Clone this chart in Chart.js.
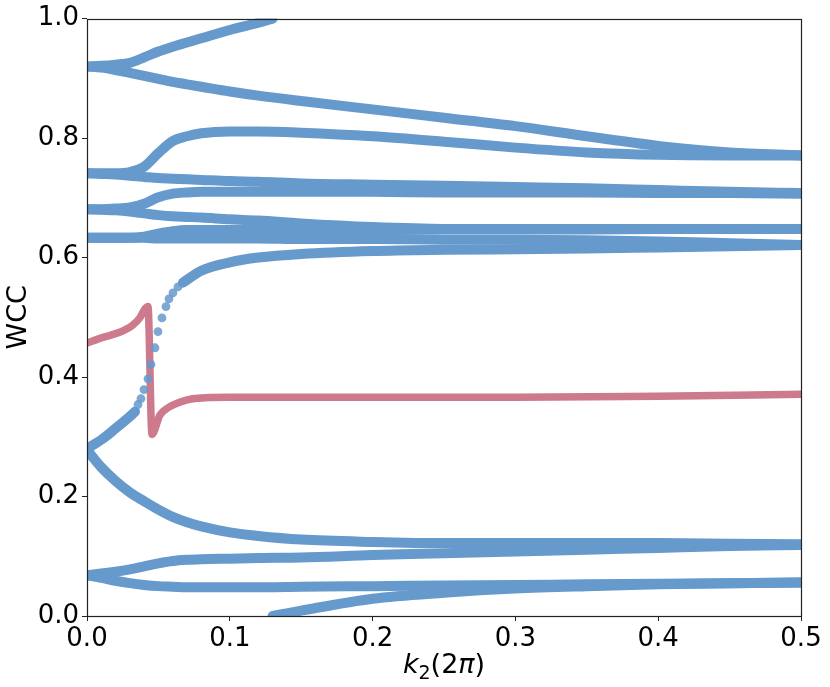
<!DOCTYPE html>
<html>
<head>
<meta charset="utf-8">
<script src="https://cdn.jsdelivr.net/npm/chart.js@4.4.1/dist/chart.umd.min.js"></script>
<style>
html, body { margin: 0; padding: 0; background: #fff; }
canvas { display: block; }
</style>
</head>
<body>
<canvas id="wcc" width="830" height="687"></canvas>
<script>
// k2 sample positions shared by most bands
const kGrid = [0, 0.01, 0.02, 0.03, 0.04, 0.05, 0.06, 0.07, 0.08, 0.1, 0.12, 0.15, 0.2, 0.25, 0.3, 0.35, 0.4, 0.45, 0.5];

// blue WCC bands
const bandB = [0.920, 0.918, 0.914, 0.909, 0.904, 0.899, 0.894, 0.890, 0.886, 0.878, 0.871, 0.862, 0.848, 0.834, 0.820, 0.803, 0.787, 0.776, 0.771];
const bandC = [0.741, 0.741, 0.741, 0.743, 0.752, 0.775, 0.795, 0.803, 0.808, 0.811, 0.811, 0.809, 0.803, 0.794, 0.784, 0.776, 0.772, 0.771, 0.771];
const bandD = [0.741, 0.740, 0.739, 0.737, 0.735, 0.733, 0.732, 0.731, 0.730, 0.728, 0.727, 0.724, 0.722, 0.720, 0.718, 0.716, 0.713, 0.710, 0.708];
const bandE = [0.681, 0.681, 0.682, 0.684, 0.690, 0.701, 0.707, 0.709, 0.710, 0.710, 0.710, 0.710, 0.710, 0.709, 0.709, 0.709, 0.708, 0.708, 0.707];
const bandF = [0.681, 0.680, 0.679, 0.677, 0.674, 0.671, 0.669, 0.668, 0.667, 0.664, 0.662, 0.657, 0.651, 0.648, 0.648, 0.648, 0.648, 0.648, 0.648];
const bandG1 = [0.633, 0.633, 0.633, 0.633, 0.635, 0.640, 0.644, 0.646, 0.646, 0.646, 0.646, 0.646, 0.646, 0.647, 0.647, 0.647, 0.648, 0.648, 0.648];
const bandG2 = [0.633, 0.633, 0.633, 0.633, 0.633, 0.632, 0.632, 0.632, 0.632, 0.632, 0.632, 0.631, 0.631, 0.630, 0.630, 0.629, 0.627, 0.624, 0.621];
const bandJ = [0.278, 0.249, 0.226, 0.207, 0.192, 0.178, 0.166, 0.157, 0.150, 0.140, 0.134, 0.128, 0.124, 0.122, 0.122, 0.122, 0.122, 0.121, 0.120];
const bandK = [0.068, 0.071, 0.074, 0.078, 0.083, 0.088, 0.092, 0.094, 0.095, 0.096, 0.097, 0.098, 0.102, 0.105, 0.108, 0.111, 0.114, 0.117, 0.119];
const bandL = [0.068, 0.064, 0.059, 0.055, 0.052, 0.050, 0.049, 0.048, 0.048, 0.048, 0.048, 0.049, 0.050, 0.051, 0.052, 0.053, 0.054, 0.055, 0.056];

// top band that runs out at 1.0 and comes back in at 0.0
const aK = [0, 0.01, 0.02, 0.03, 0.04, 0.05, 0.06, 0.07, 0.08, 0.1, 0.12, 0.13];
const aW = [0.920, 0.921, 0.923, 0.926, 0.935, 0.945, 0.953, 0.960, 0.967, 0.981, 0.993, 1.000];
const mK = [0.13, 0.15, 0.2, 0.25, 0.3, 0.35, 0.4, 0.45, 0.5];
const mW = [0.000, 0.009, 0.029, 0.039, 0.046, 0.050, 0.053, 0.055, 0.056];

// the band that climbs from 0.28 to 0.62: dense parts and the separated dots
const hLowK = [0, 0.01, 0.02, 0.03, 0.0336];
const hLowW = [0.280, 0.295, 0.314, 0.334, 0.342];
const hDotK = [0.0336, 0.0357, 0.0378, 0.0399, 0.0427, 0.0448, 0.0476, 0.0497, 0.0525, 0.0553, 0.0574, 0.0602, 0.0637, 0.0672];
const hDotW = [0.342, 0.354, 0.364, 0.379, 0.397, 0.421, 0.449, 0.476, 0.499, 0.518, 0.531, 0.541, 0.551, 0.558];
const hHighK = [0.0672, 0.08, 0.1, 0.12, 0.15, 0.2, 0.25, 0.3, 0.35, 0.4, 0.45, 0.5];
const hHighW = [0.558, 0.578, 0.592, 0.600, 0.606, 0.611, 0.613, 0.614, 0.615, 0.617, 0.619, 0.621];

// red band
const redK = [0, 0.0105, 0.0217, 0.0315, 0.037, 0.0406, 0.0427, 0.0455, 0.051, 0.057, 0.064, 0.0756, 0.1, 0.15, 0.2, 0.3, 0.4, 0.5];
const redW = [0.457, 0.466, 0.474, 0.486, 0.499, 0.514, 0.518, 0.304, 0.336, 0.349, 0.357, 0.364, 0.366, 0.366, 0.366, 0.366, 0.368, 0.371];

const xTicks = [0, 0.1, 0.2, 0.3, 0.4, 0.5];
const yTicks = [0, 0.2, 0.4, 0.6, 0.8, 1.0];

const blue = 'rgb(102,153,204)';
const red = 'rgb(204,122,140)';
const FONT = '"DejaVu Sans", sans-serif';

function pts(ks, ws) {
    return ks.map((k, i) => ({ x: k, y: ws[i] }));
}

function lineSet(data, color, width, order) {
    return {
        data, showLine: true, borderColor: color, borderWidth: width,
        pointRadius: 0, cubicInterpolationMode: 'monotone',
        borderCapStyle: 'round', borderJoinStyle: 'round', clip: 0, order
    };
}

const datasets = [];
[bandB, bandC, bandD, bandE, bandF, bandG1, bandG2, bandJ, bandK, bandL].forEach(b => {
    datasets.push(lineSet(pts(kGrid, b), blue, 10, 0));
});
datasets.push(lineSet(pts(aK, aW), blue, 10, 0));
datasets.push(lineSet(pts(mK, mW), blue, 10, 0));
datasets.push(lineSet(pts(hLowK, hLowW), blue, 10, 0));
datasets.push(lineSet(pts(hHighK, hHighW), blue, 10, 0));
datasets.push({
    data: pts(hDotK, hDotW), showLine: false, pointRadius: 4.4,
    pointBackgroundColor: 'rgba(102,153,204,0.85)', pointBorderWidth: 0, clip: 0, order: 0
});
datasets.push(lineSet(pts(redK, redW), red, 7.5, 1));

// frame on all four sides + mathtext-like x label
const frameAndLabel = {
    id: 'frameAndLabel',
    afterDraw(chart) {
        const { ctx, chartArea: a } = chart;
        ctx.save();
        ctx.strokeStyle = '#222';
        ctx.lineWidth = 1.2;
        ctx.strokeRect(Math.round(a.left) + 0.5, Math.round(a.top) + 0.5,
            Math.round(a.right - a.left), Math.round(a.bottom - a.top));

        const pieces = [
            { t: 'k', font: 'italic 27px ' + FONT, dy: 0 },
            { t: '2', font: '19px ' + FONT, dy: 6 },
            { t: '(2', font: '27px ' + FONT, dy: 0 },
            { t: 'π', font: 'italic 27px ' + FONT, dy: 0 },
            { t: ')', font: '27px ' + FONT, dy: 0 }
        ];
        let total = 0;
        pieces.forEach(p => { ctx.font = p.font; p.w = ctx.measureText(p.t).width; total += p.w; });
        let x = (a.left + a.right) / 2 - total / 2;
        const base = 673;
        ctx.fillStyle = '#000';
        ctx.textBaseline = 'alphabetic';
        pieces.forEach(p => {
            ctx.font = p.font;
            ctx.fillText(p.t, x, base + p.dy);
            x += p.w;
        });
        ctx.restore();
    }
};

new Chart(document.getElementById('wcc'), {
    type: 'scatter',
    data: { datasets },
    options: {
        responsive: false,
        animation: false,
        devicePixelRatio: 1,
        layout: { padding: { top: 17, right: 29, left: 0, bottom: 0 } },
        plugins: { legend: { display: false }, tooltip: { enabled: false } },
        scales: {
            x: {
                type: 'linear', min: 0, max: 0.5,
                afterBuildTicks: s => { s.ticks = xTicks.map(v => ({ value: v })); },
                afterFit: s => { s.height = 71; },
                ticks: {
                    color: '#000', padding: 3,
                    font: { family: FONT, size: 26 },
                    callback: v => v.toFixed(1)
                },
                grid: { drawOnChartArea: false, tickLength: 5, color: '#222', lineWidth: 1 },
                border: { display: false }
            },
            y: {
                type: 'linear', min: 0, max: 1,
                afterBuildTicks: s => { s.ticks = yTicks.map(v => ({ value: v })); },
                afterFit: s => { s.width = 87; },
                ticks: {
                    color: '#000', padding: 3,
                    font: { family: FONT, size: 26 },
                    callback: v => v.toFixed(1)
                },
                grid: { drawOnChartArea: false, tickLength: 5, color: '#222', lineWidth: 1 },
                border: { display: false },
                title: {
                    display: true, text: 'WCC', color: '#000',
                    font: { family: FONT, size: 27 },
                    padding: { top: 3, bottom: 0 }
                }
            }
        }
    },
    plugins: [frameAndLabel]
});
</script>
</body>
</html>
